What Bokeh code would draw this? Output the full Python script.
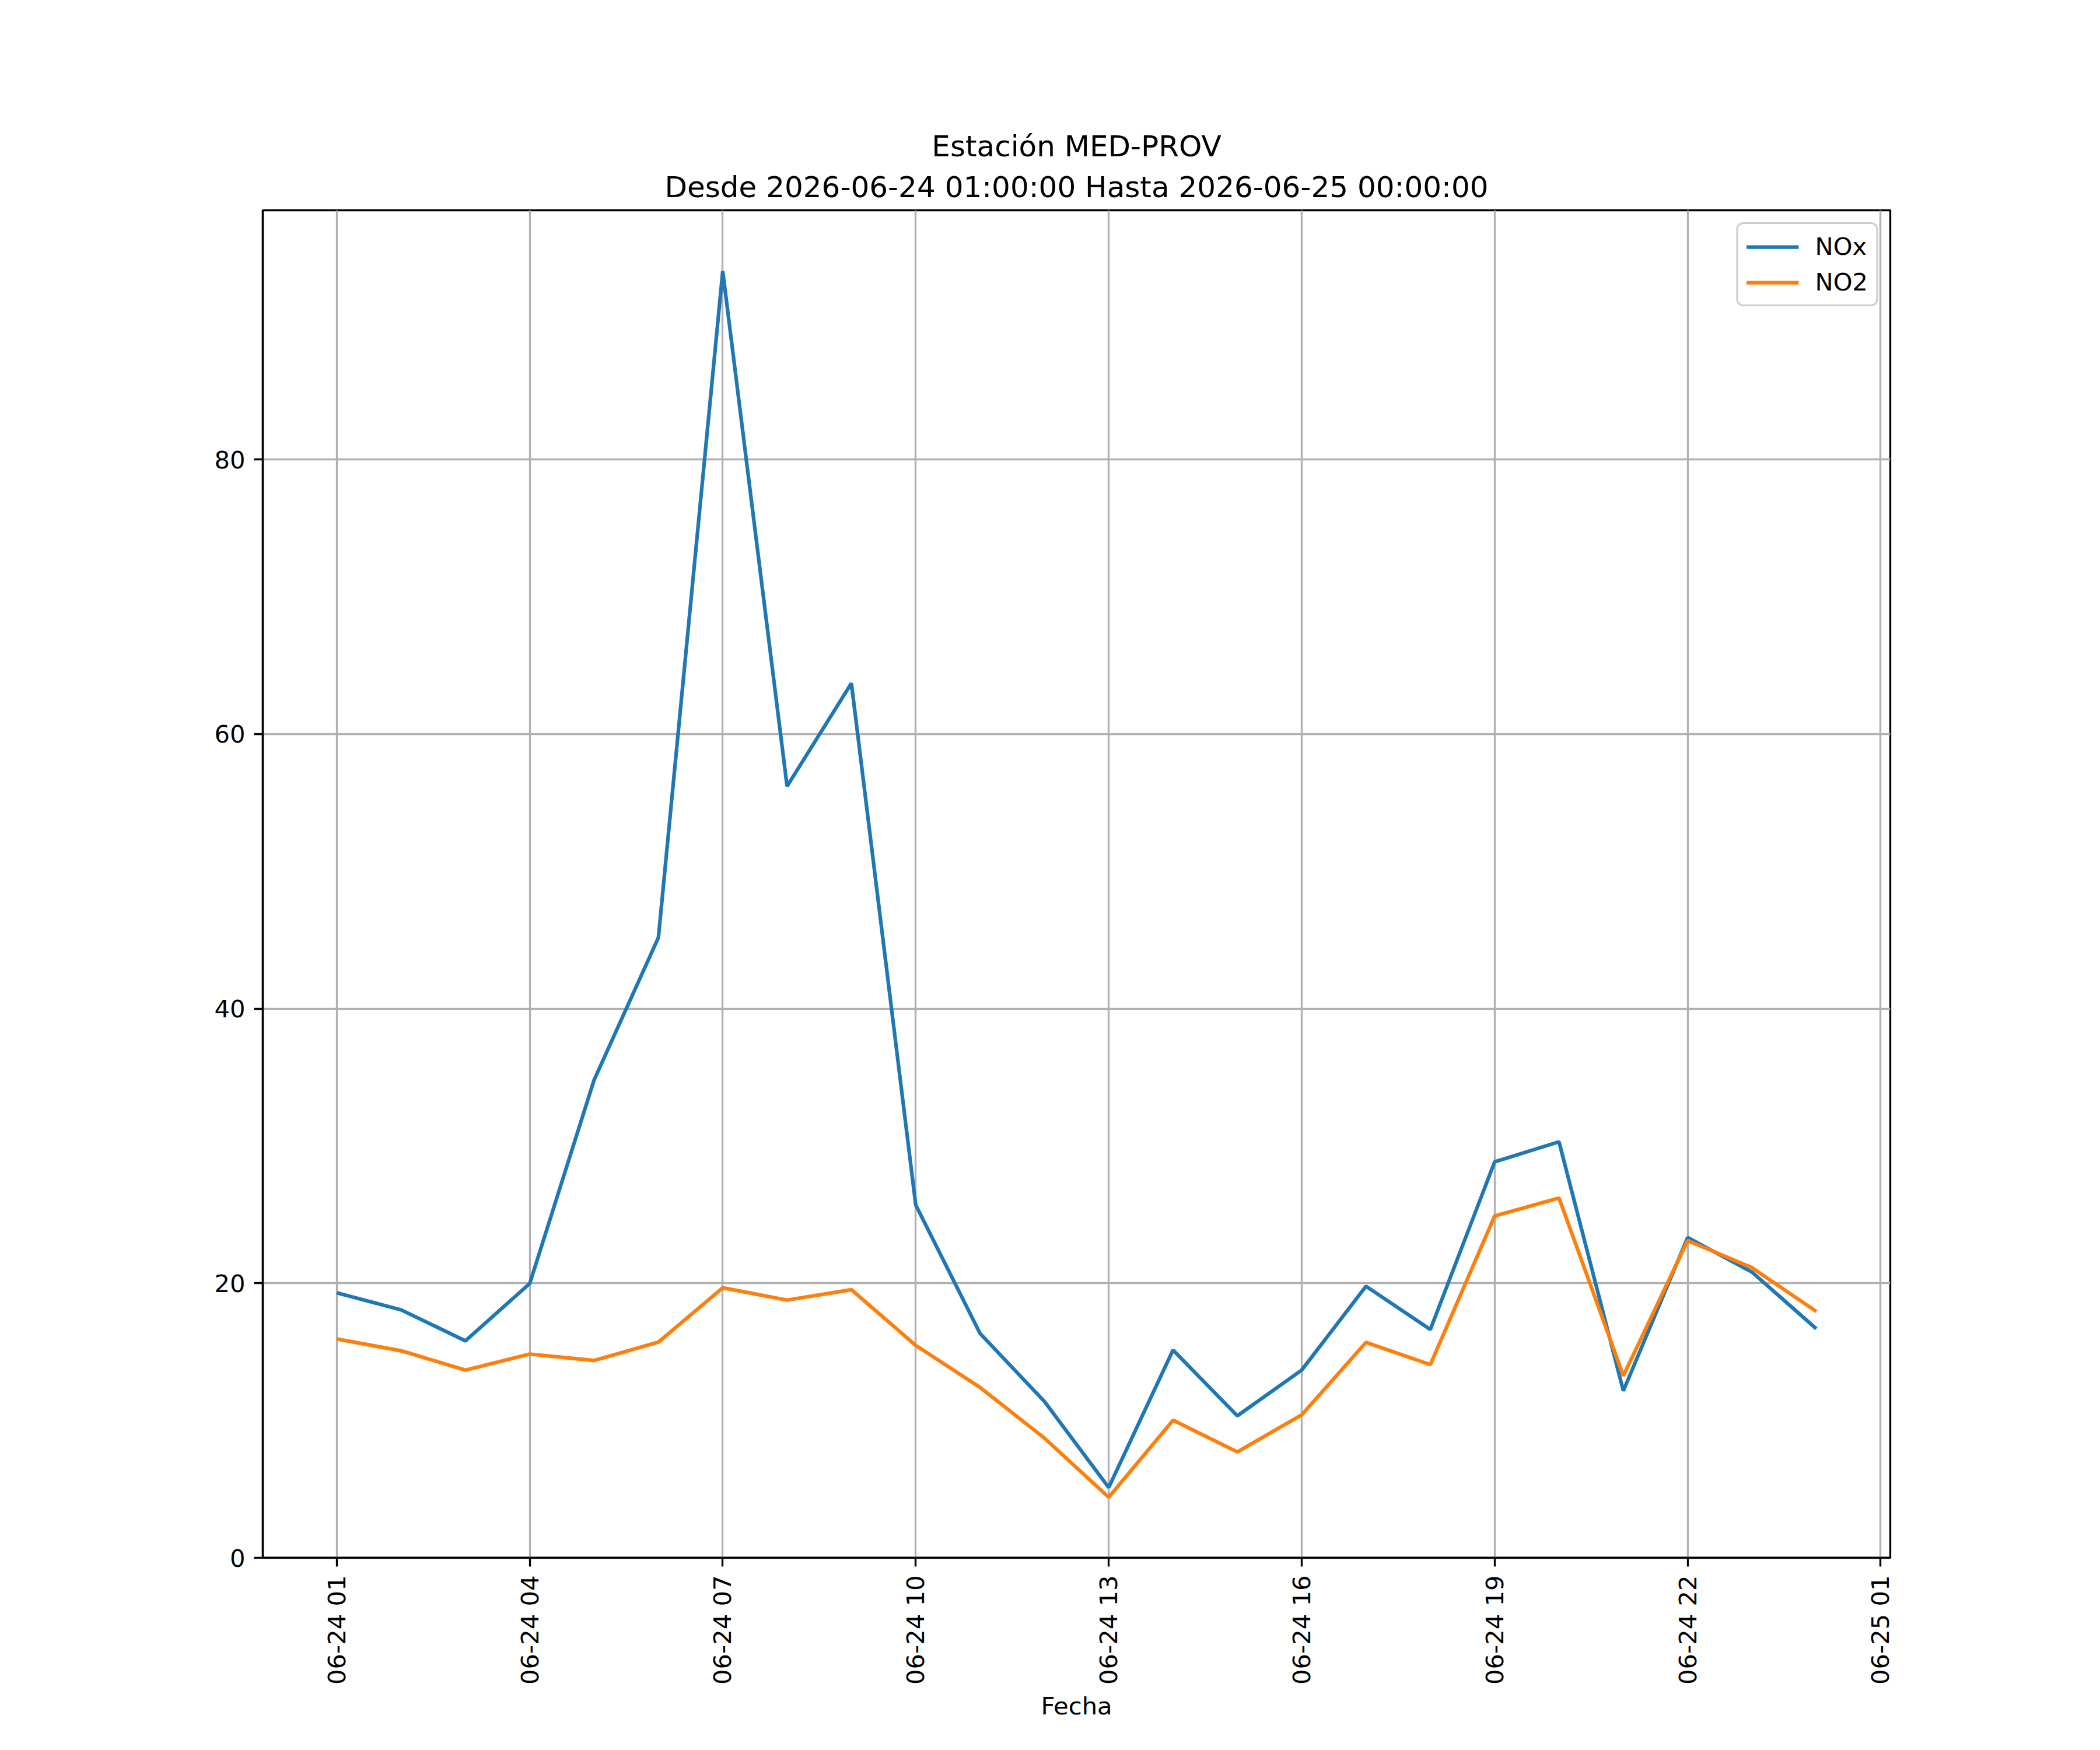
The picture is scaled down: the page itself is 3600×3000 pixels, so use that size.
import math
import pandas as pd
from bokeh.plotting import figure
from bokeh.models import (Range1d, FixedTicker, DatetimeTickFormatter, Title,
                          Legend, LegendItem)
from bokeh.embed import file_html
from bokeh.resources import INLINE

# ---- data ----
fechas = ["2026-06-24 01:00", "2026-06-24 02:00", "2026-06-24 03:00", "2026-06-24 04:00",
          "2026-06-24 05:00", "2026-06-24 06:00", "2026-06-24 07:00", "2026-06-24 08:00",
          "2026-06-24 09:00", "2026-06-24 10:00", "2026-06-24 11:00", "2026-06-24 12:00",
          "2026-06-24 13:00", "2026-06-24 14:00", "2026-06-24 15:00", "2026-06-24 16:00",
          "2026-06-24 17:00", "2026-06-24 18:00", "2026-06-24 19:00", "2026-06-24 20:00",
          "2026-06-24 21:00", "2026-06-24 22:00", "2026-06-24 23:00", "2026-06-25 00:00"]
nox = [19.3, 18.06, 15.8, 19.98, 34.8, 45.18, 93.72, 56.2, 63.7, 25.7, 16.34, 11.39,
       5.12, 15.13, 10.34, 13.67, 19.78, 16.63, 28.84, 30.3, 12.16, 23.33, 20.81, 16.68]
no2 = [15.94, 15.08, 13.67, 14.84, 14.37, 15.71, 19.67, 18.77, 19.53, 15.47, 12.41, 8.72,
       4.41, 10.02, 7.71, 10.41, 15.69, 14.07, 24.9, 26.21, 13.26, 23.11, 21.13, 17.94]
series_names = ["NOx", "NO2"]
series_colors = ["#1f77b4", "#ff7f0e"]
y_ticks = [0, 20, 40, 60, 80]
tick_times = ["2026-06-24 01:00", "2026-06-24 04:00", "2026-06-24 07:00", "2026-06-24 10:00",
              "2026-06-24 13:00", "2026-06-24 16:00", "2026-06-24 19:00", "2026-06-24 22:00",
              "2026-06-25 01:00"]
title_1 = "Estación MED-PROV"
title_2 = "Desde 2026-06-24 01:00:00 Hasta 2026-06-25 00:00:00"
x_label = "Fecha"

x = pd.to_datetime(fechas)
pad = pd.Timedelta(hours=1.15)

FONT = "DejaVu Sans"
FS = "41.7px"

p = figure(frame_width=2790, frame_height=2310, x_axis_type="datetime",
           output_backend="svg", toolbar_location=None,
           min_border_left=450, min_border_top=360, min_border_right=344,
           min_border_bottom=314,
           x_range=Range1d(x[0] - pad, x[-1] + pad), y_range=Range1d(0, 98.15))
p.background_fill_color = "white"
p.border_fill_color = "white"
p.outline_line_color = "black"
p.outline_line_width = 3.3

# titles (first added is closest to plot)
p.add_layout(Title(text=title_2, align="center", text_font=FONT, text_font_size="50px",
                   text_font_style="normal", text_color="black", standoff=21), "above")
p.add_layout(Title(text=title_1, align="center", text_font=FONT, text_font_size="50px",
                   text_font_style="normal", text_color="black", standoff=0), "above")

r1 = p.line(x, nox, line_color=series_colors[0], line_width=6.25)
r2 = p.line(x, no2, line_color=series_colors[1], line_width=6.25)

# axes
tick_ms = [pd.Timestamp(t).value / 1e6 for t in tick_times]
p.xaxis.ticker = FixedTicker(ticks=tick_ms)
fmt = "%m-%d %H"
p.xaxis.formatter = DatetimeTickFormatter(microseconds=fmt, milliseconds=fmt, seconds=fmt,
                                          minsec=fmt, minutes=fmt, hourmin=fmt, hours=fmt,
                                          days=fmt, months=fmt, years=fmt)
p.xaxis.major_label_orientation = math.pi / 2
p.yaxis.ticker = FixedTicker(ticks=y_ticks)
p.xaxis.axis_label = x_label

for ax in (p.xaxis, p.yaxis):
    ax.axis_line_color = "black"
    ax.axis_line_width = 3.3
    ax.major_tick_line_color = "black"
    ax.major_tick_line_width = 3.3
    ax.major_tick_in = 0
    ax.major_tick_out = 15
    ax.minor_tick_line_color = None
    ax.major_label_text_font = FONT
    ax.major_label_text_font_size = FS
    ax.major_label_text_color = "black"
    ax.major_label_standoff = 15
    ax.axis_label_text_font = FONT
    ax.axis_label_text_font_size = FS
    ax.axis_label_text_font_style = "normal"
    ax.axis_label_text_color = "black"
    ax.axis_label_standoff = 9

p.grid.grid_line_color = "#b0b0b0"
p.grid.grid_line_width = 3.3
p.xgrid.ticker = FixedTicker(ticks=tick_ms)
p.ygrid.ticker = FixedTicker(ticks=y_ticks)

legend = Legend(items=[LegendItem(label=series_names[0], renderers=[r1]),
                       LegendItem(label=series_names[1], renderers=[r2])],
                location="top_right", margin=21, padding=14, spacing=12,
                glyph_width=90, glyph_height=42, label_standoff=28,
                label_text_font=FONT, label_text_font_size=FS, label_height=42,
                label_text_color="black",
                border_line_color="#cccccc", border_line_width=3.3, border_line_alpha=1.0,
                border_radius=12, background_fill_color="white", background_fill_alpha=0.8)
p.add_layout(legend, "center")

open("out.html", "w").write(file_html(p, INLINE))
